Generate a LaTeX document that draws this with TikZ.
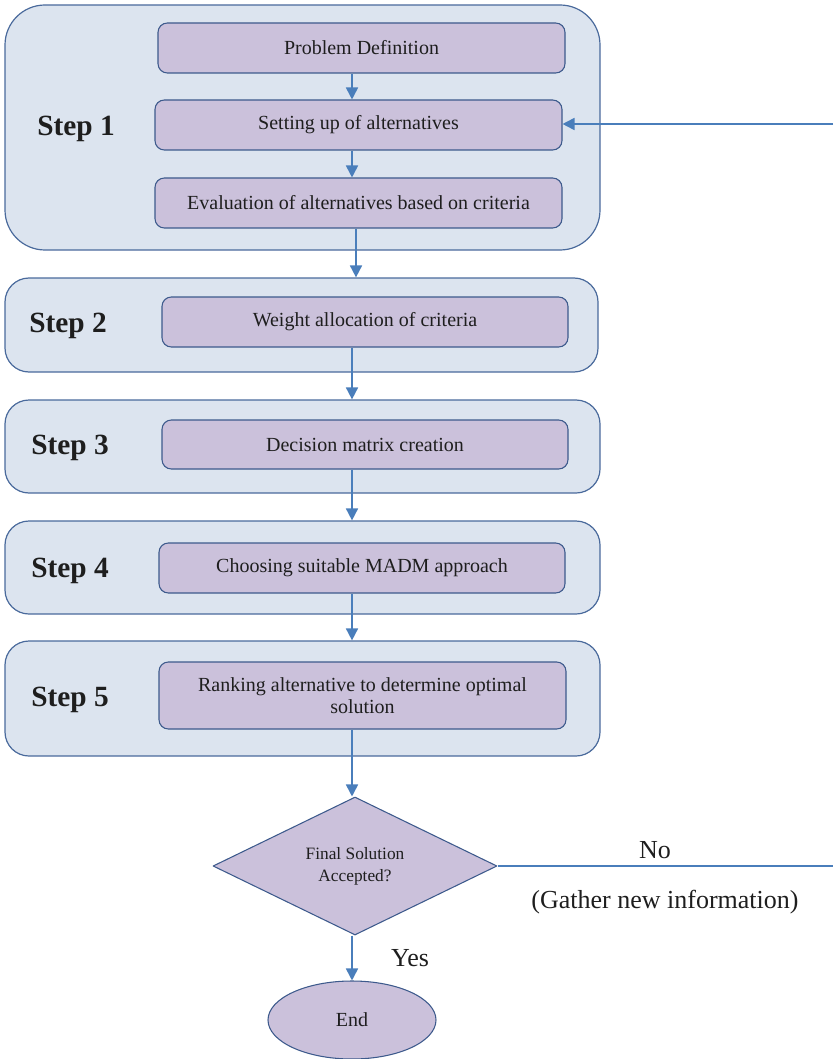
\documentclass[tikz,border=0pt]{standalone}
\usepackage{fontspec}
\setmainfont{Liberation Serif}
\usepackage{tikz}
\usetikzlibrary{arrows.meta, shapes.geometric, positioning}

\definecolor{framefill}{HTML}{DCE4EF}
\definecolor{framedraw}{HTML}{4A6A9C}
\definecolor{taskfill}{HTML}{CBC1DB}
\definecolor{taskdraw}{HTML}{3D5A8C}
\definecolor{flowblue}{HTML}{4A7EBB}
\definecolor{inkgray}{HTML}{1E1E1E}

\tikzset{
  stepframe/.style={draw=framedraw, fill=framefill, line width=0.9pt, rounded corners=18pt,
    minimum width=446.25pt, inner sep=0pt},
  taskbox/.style={draw=taskdraw, fill=taskfill, line width=0.8pt, rounded corners=7pt,
    minimum width=305.25pt, minimum height=37.5pt, inner sep=0pt, align=center,
    font=\fontsize{15}{16.5}\selectfont, text=inkgray},
  steplabel/.style={font=\fontsize{22}{24}\selectfont\bfseries, text=inkgray},
  flowarrow/.style={draw=flowblue, line width=1.3pt, -{Triangle[length=9pt, width=9pt]}},
  flowline/.style={draw=flowblue, line width=1.3pt},
  notelabel/.style={font=\fontsize{19.5}{21}\selectfont, text=inkgray},
}

\begin{document}
\begin{tikzpicture}[x=0.75pt, y=-0.75pt, line join=round]
  \useasboundingbox (0,0) rectangle (833,1059);

  %--------------------------
  % Step frames
  %--------------------------
  \node[stepframe, rounded corners=30pt, minimum height=183.75pt] (s1) at (302.5,127.5) {};
  \node[stepframe, minimum width=444.75pt, minimum height=70.5pt] (s2) at (301.5,325) {};
  \node[stepframe, minimum height=69.75pt] (s3) at (302.5,446.5) {};
  \node[stepframe, minimum height=69.75pt] (s4) at (302.5,567.5) {};
  \node[stepframe, minimum height=86.25pt] (s5) at (302.5,698.5) {};

  \node[steplabel] (l1) at (76,129) {Step 1};
  \node[steplabel] (l2) at (68,326) {Step 2};
  \node[steplabel] (l3) at (70,448) {Step 3};
  \node[steplabel] (l4) at (70,571) {Step 4};
  \node[steplabel] (l5) at (70,700) {Step 5};

  %--------------------------
  % Tasks
  %--------------------------
  \node[taskbox] (pd) at (361.5,48) {Problem Definition};
  \node[taskbox] (su) at (358.5,125) {Setting up of alternatives};
  \node[taskbox] (ev) at (358.5,203) {Evaluation of alternatives based on criteria};
  \node[taskbox, minimum width=304.5pt] (wa) at (365,322) {Weight allocation of criteria};
  \node[taskbox, minimum width=304.5pt, minimum height=36.75pt] (dm) at (365,444.5) {Decision matrix creation};
  \node[taskbox, minimum width=304.5pt] (ch) at (362,568) {Choosing suitable MADM approach};
  \node[taskbox, minimum height=50.25pt] (rk) at (362.5,695.5) {Ranking alternative to determine optimal\\solution};

  % Decision and end
  \node[diamond, draw=taskdraw, fill=taskfill, line width=0.8pt, inner sep=0pt,
        minimum width=213pt, minimum height=103.5pt, align=center,
        font=\fontsize{13}{16.5}\selectfont, text=inkgray] (dec) at (355,866) {Final Solution\\Accepted?};
  \node[ellipse, draw=taskdraw, fill=taskfill, line width=0.8pt, inner sep=0pt,
        minimum width=126pt, minimum height=58.5pt,
        font=\fontsize{15}{16.5}\selectfont, text=inkgray] (end) at (352,1020) {End};

  \coordinate (noend) at (833,866);
  \coordinate (backin) at (833,124);

  %--------------------------
  % Connectors
  %--------------------------
  \draw[flowarrow] (pd.south -| 352,0) -- (su.north -| 352,0);
  \draw[flowarrow] (su.south -| 352,0) -- (ev.north -| 352,0);
  \draw[flowarrow] (ev.south -| 356,0) -- (s2.north -| 356,0);
  \draw[flowarrow] (wa.south -| 352,0) -- (s3.north -| 352,0);
  \draw[flowarrow] (dm.south -| 352,0) -- (s4.north -| 352,0);
  \draw[flowarrow] (ch.south -| 352,0) -- (s5.north -| 352,0);
  \draw[flowarrow] (rk.south -| 352,0) -- (dec.north -| 352,0);
  \draw[flowarrow] (dec.south -| 352,0) -- (end.north);
  \draw[flowline] (dec.east) -- (noend);
  \draw[flowarrow] (backin) -- (su.east |- backin);

  \node[notelabel] (yes) at (410,958) {Yes};
  \node[notelabel] (no) at (655,850) {No};
  \node[notelabel] (gather) at (665,902) {(Gather new information)};

\end{tikzpicture}
\end{document}
